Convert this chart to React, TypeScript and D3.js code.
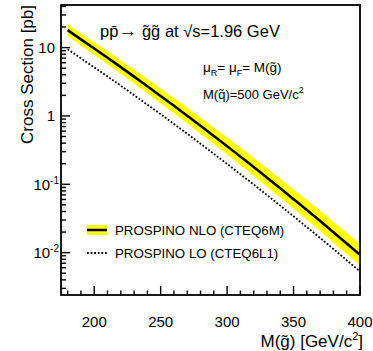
import React from "react";
import * as d3 from "d3";

const masses = [180, 190, 200, 210, 220, 230, 240, 250, 260, 270, 280, 290, 300, 310, 320, 330, 340, 350, 360, 370, 380, 390, 400];
const nloXsec = [18.0, 13.2, 9.72, 7.11, 5.18, 3.76, 2.72, 1.96, 1.41, 1.01, 0.718, 0.509, 0.361, 0.254, 0.179, 0.125, 0.0873, 0.0606, 0.042, 0.029, 0.0199, 0.0136, 0.0093];
const nloUpper = [21.96, 16.24, 12.06, 8.9, 6.54, 4.78, 3.49, 2.53, 1.84, 1.33, 0.951, 0.68, 0.486, 0.344, 0.245, 0.172, 0.121, 0.0847, 0.0591, 0.0412, 0.0284, 0.0196, 0.0135];
const nloLower = [14.76, 10.75, 7.86, 5.71, 4.13, 2.98, 2.14, 1.53, 1.095, 0.779, 0.55, 0.387, 0.272, 0.19, 0.133, 0.0923, 0.064, 0.0441, 0.0303, 0.0208, 0.0141, 0.00959, 0.00651];
const loXsec = [9.47, 6.97, 5.15, 3.78, 2.77, 2.01, 1.46, 1.06, 0.764, 0.549, 0.392, 0.279, 0.199, 0.14, 0.0992, 0.0695, 0.0487, 0.034, 0.0236, 0.0164, 0.0113, 0.00774, 0.00531];

const xMajorTicks = [200, 250, 300, 350, 400];
const yMajorTicks = [10, 1, 0.1, 0.01];
const yTickExponents = ["1", "0", "-1", "-2"];

const FONT = "'Liberation Sans', Arial, Helvetica, sans-serif";

export default function App() {
  const W = 373, H = 351;
  const left = 61, right = 360, top = 5, bottom = 295;
  const x = d3.scaleLinear().domain([175, 400]).range([left, right]);
  const y = d3.scaleLog().domain([0.0024, 42]).range([bottom, top]);

  const bandData = masses.map((m, i) => ({ m, lo: nloLower[i], hi: nloUpper[i] }));
  const area = d3.area<any>().x((d) => x(d.m)).y0((d) => y(d.lo)).y1((d) => y(d.hi)).curve(d3.curveMonotoneX);
  const line = d3.line<any>().x((d) => x(d[0])).y((d) => y(d[1])).curve(d3.curveMonotoneX);
  const nloPts = masses.map((m, i) => [m, nloXsec[i]]);
  const loPts = masses.map((m, i) => [m, loXsec[i]]);

  const xMinor = d3.range(180, 401, 10).filter((v) => !xMajorTicks.includes(v));
  const yMinor: number[] = [];
  for (let e = -3; e <= 1; e++) {
    for (let k = 2; k <= 9; k++) {
      const v = k * Math.pow(10, e);
      if (v >= 0.0024 && v <= 42) yMinor.push(v);
    }
  }

  return (
    <svg width={W} height={H} style={{ position: "absolute", left: 0, top: 0, background: "#fff" }} fontFamily={FONT}>
      <rect x={0} y={0} width={W} height={H} fill="#fff" />
      <defs>
        <clipPath id="plotclip">
          <rect x={left} y={top} width={right - left} height={bottom - top} />
        </clipPath>
      </defs>
      <g clipPath="url(#plotclip)">
        <path d={area(bandData) || ""} fill="#ffff00" stroke="none" />
        <path d={line(nloPts as any) || ""} fill="none" stroke="#000" strokeWidth={2.5} />
        <path d={line(loPts as any) || ""} fill="none" stroke="#000" strokeWidth={1.8} strokeDasharray="1.8,1.8" />
      </g>
      {/* frame */}
      <rect x={left} y={top} width={right - left} height={bottom - top} fill="none" stroke="#000" strokeWidth={1.8} />
      {/* x ticks */}
      {xMajorTicks.map((v) => (
        <line key={"xM" + v} x1={x(v)} x2={x(v)} y1={bottom} y2={bottom - 9} stroke="#000" strokeWidth={1.4} />
      ))}
      {xMinor.map((v) => (
        <line key={"xm" + v} x1={x(v)} x2={x(v)} y1={bottom} y2={bottom - 4.5} stroke="#000" strokeWidth={1.4} />
      ))}
      {/* y ticks */}
      {yMajorTicks.map((v) => (
        <line key={"yM" + v} x1={left} x2={left + 9} y1={y(v)} y2={y(v)} stroke="#000" strokeWidth={1.4} />
      ))}
      {yMinor.map((v) => (
        <line key={"ym" + v} x1={left} x2={left + 5} y1={y(v)} y2={y(v)} stroke="#000" strokeWidth={1.4} />
      ))}
      {/* x tick labels */}
      {xMajorTicks.map((v) => (
        <text key={"xl" + v} x={x(v)} y={327} fontSize={15} textAnchor="middle" fill="#000">{v}</text>
      ))}
      {/* y tick labels */}
      {yMajorTicks.map((v, i) => {
        const e = yTickExponents[i];
        if (e === "1" || e === "0") {
          return (
            <text key={"yl" + v} x={55} y={y(v) + 5.5} fontSize={15} textAnchor="end" fill="#000">{v}</text>
          );
        }
        return (
          <text key={"yl" + v} x={59} y={y(v) + 5.5} fontSize={15} textAnchor="end" fill="#000">
            10<tspan fontSize={10} dy={-6}>{e}</tspan>
          </text>
        );
      })}
      {/* axis titles */}
      <text x={363} y={347} fontSize={17} textAnchor="end" fill="#000">
        M(g̃) [GeV/c<tspan fontSize={11} dy={-7}>2</tspan><tspan dy={7}>]</tspan>
      </text>
      <text transform="translate(33,5) rotate(-90)" fontSize={17} textAnchor="end" fill="#000">Cross Section [pb]</text>
      {/* annotations */}
      <text x={100} y={37} fontSize={16.5} fill="#000">pp̄<tspan fontSize={19}>→</tspan> g̃g̃ at √s=1.96 GeV</text>
      <text x={203} y={72} fontSize={13.5} fill="#000">
        μ<tspan fontSize={9} dy={4}>R</tspan><tspan dy={-4}>= μ</tspan><tspan fontSize={9} dy={4}>F</tspan><tspan dy={-4}>= M(g̃)</tspan>
      </text>
      <text x={203} y={99} fontSize={13} fill="#000">
        M(q̃)=500 GeV/c<tspan fontSize={9} dy={-6}>2</tspan>
      </text>
      {/* legend */}
      <rect x={87} y={225} width={20} height={10} fill="#ffff00" />
      <line x1={87} x2={107} y1={230} y2={230} stroke="#000" strokeWidth={2.5} />
      <text x={115} y={234.5} fontSize={13.3} fill="#000">PROSPINO NLO (CTEQ6M)</text>
      <line x1={87} x2={107} y1={253} y2={253} stroke="#000" strokeWidth={1.8} strokeDasharray="1.8,1.8" />
      <text x={115} y={257.5} fontSize={13.3} fill="#000">PROSPINO LO (CTEQ6L1)</text>
    </svg>
  );
}
